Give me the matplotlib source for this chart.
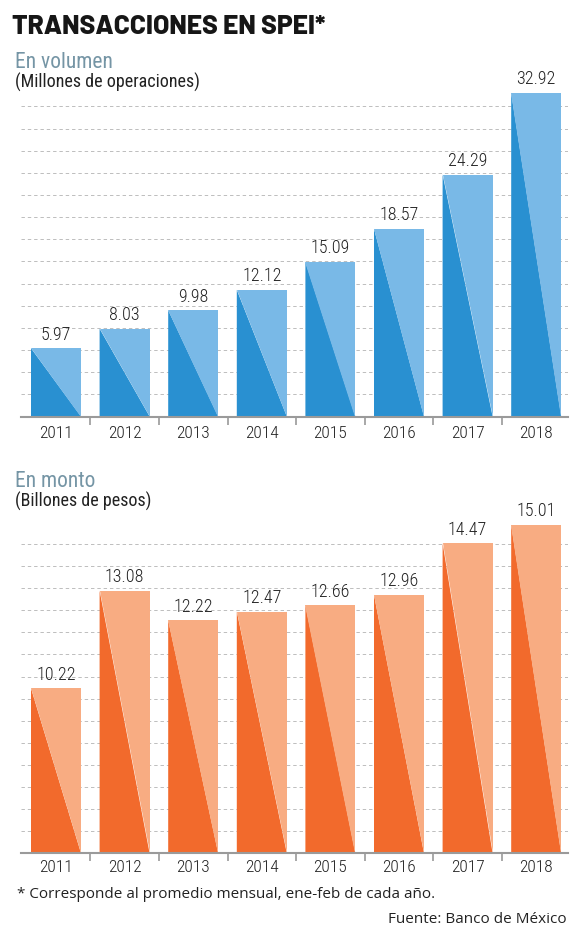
import matplotlib
matplotlib.use("Agg")
import matplotlib.pyplot as plt
import numpy as np

years = ["2011", "2012", "2013", "2014", "2015", "2016", "2017", "2018"]
volumen = [5.97, 8.03, 9.98, 12.12, 15.09, 18.57, 24.29, 32.92]
monto = [10.22, 13.08, 12.22, 12.47, 12.66, 12.96, 14.47, 15.01]
vol_labels = ["5.97", "8.03", "9.98", "12.12", "15.09", "18.57", "24.29", "32.92"]
monto_labels = ["10.22", "13.08", "12.22", "12.47", "12.66", "12.96", "14.47", "15.01"]

W, H = 580, 930
fig = plt.figure(figsize=(W / 100, H / 100), dpi=100)

NUM_FONT = ["Roboto Condensed", "DejaVu Sans"]
TITLE_FONT = ["Barlow", "DejaVu Sans"]
TXT_FONT = ["Open Sans", "DejaVu Sans"]


def fy(py):
    return 1 - py / H


def fx(px):
    return px / W


def panel(top_px, bottom_px, ymin, scale, step, values, labels, dark, light, pad):
    left_px, right_px = 21, 567.5
    ax = fig.add_axes([fx(left_px), fy(bottom_px), (right_px - left_px) / W,
                       (bottom_px - top_px) / H])
    spacing = 68.6
    ax.set_xlim((left_px - 56) / spacing, (right_px - 56) / spacing)
    ymax = ymin + (bottom_px - top_px) / scale
    ax.set_ylim(ymin, ymax)
    for k in range(1, 15):
        ax.axhline(ymin + k * step, color="#bdbdbd", lw=0.7, ls=(0, (3.5, 3)), zorder=0)
    w = 50 / spacing
    x = np.arange(len(values))
    for xi, v, lab in zip(x, values, labels):
        l, r = xi - w / 2, xi + w / 2
        ax.fill([l, l, r], [ymin, v, ymin], color=dark, lw=0, zorder=2)
        ax.fill([l, r, r], [v, v, ymin], color=light, lw=0, zorder=2)
        ax.annotate(lab, (xi, v), xytext=(0, 3.2), textcoords="offset points",
                    ha="center", va="bottom", fontsize=13, fontweight=300,
                    color="#222222", family=NUM_FONT, annotation_clip=False)
    for s in ["top", "right", "left"]:
        ax.spines[s].set_visible(False)
    ax.spines["bottom"].set_color("#9a9a9a")
    ax.spines["bottom"].set_linewidth(1.5)
    ax.spines["bottom"].set_zorder(3)
    ax.set_yticks([])
    ax.set_xticks(x)
    ax.set_xticklabels(years, family=NUM_FONT, fontsize=12.5, fontweight=300,
                       color="#222222")
    ax.tick_params(axis="x", which="major", length=0, pad=pad)
    ax.set_xticks(x[:-1] + 0.5, minor=True)
    ax.tick_params(axis="x", which="minor", length=6, width=1.2, color="#9a9a9a")
    ax.patch.set_alpha(0)
    return ax


panel(80, 416.5, -1.23, 9.48, 22.15 / 9.48, volumen, vol_labels,
      "#2990d1", "#79b9e7", 7)
panel(500, 853.3, 5.39, 34.15, 22.1 / 34.15, monto, monto_labels,
      "#f26a2c", "#f8ac82", 4.6)

fig.text(fx(12), fy(34.5), "TRANSACCIONES EN SPEI*", fontsize=19, fontweight=800,
         family=TITLE_FONT, color="#161616", va="baseline", ha="left")
fig.text(fx(15), fy(68.3), "En volumen", fontsize=15.5, family=NUM_FONT,
         color="#7595a5", va="baseline", ha="left")
fig.text(fx(15), fy(87.3), "(Millones de operaciones)", fontsize=13, family=NUM_FONT,
         color="#222222", va="baseline", ha="left")
fig.text(fx(15), fy(486.7), "En monto", fontsize=15.5, family=NUM_FONT,
         color="#7595a5", va="baseline", ha="left")
fig.text(fx(15), fy(506.5), "(Billones de pesos)", fontsize=13, family=NUM_FONT,
         color="#222222", va="baseline", ha="left")
fig.text(fx(17), fy(897.7), "* Corresponde al promedio mensual, ene-feb de cada año.",
         fontsize=11, family=TXT_FONT, color="#222222", va="baseline", ha="left")
fig.text(fx(567), fy(922.7), "Fuente: Banco de México",
         fontsize=11, family=TXT_FONT, color="#222222", va="baseline", ha="right")

fig.savefig("out.png", dpi=100)
